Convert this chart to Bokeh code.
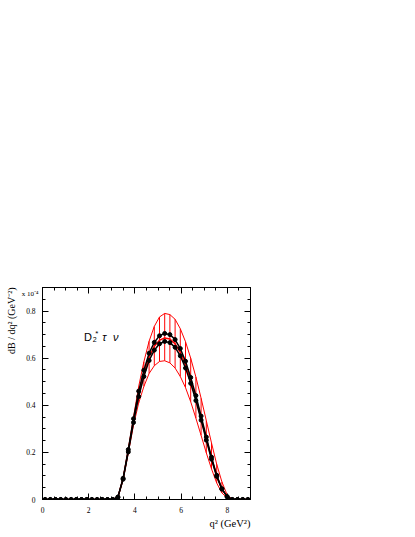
import math
from bokeh.plotting import figure
from bokeh.models import (Range1d, LinearAxis, FixedTicker, CustomJSTickFormatter,
                          Label, ColumnDataSource, Title)
from bokeh.embed import file_html
from bokeh.resources import INLINE

# bin centres (GeV^2)
q2 = [0.1125, 0.3375, 0.5625, 0.7875, 1.0125, 1.2375, 1.4625, 1.6875, 1.9125, 2.1375,
      2.3625, 2.5875, 2.8125, 3.0375, 3.2625, 3.4875, 3.7125, 3.9375, 4.1625, 4.3875,
      4.6125, 4.8375, 5.0625, 5.2875, 5.5125, 5.7375, 5.9625, 6.1875, 6.4125, 6.6375,
      6.8625, 7.0875, 7.3125, 7.5375, 7.7625, 7.9875, 8.2125, 8.4375, 8.6625, 8.8875]

Z14 = [0.0] * 14
Z4 = [0.0] * 4

# dB/dq^2 in units of 1e-4 GeV^-2
black_upper = Z14 + [0.010, 0.090, 0.212, 0.343, 0.460, 0.549, 0.621, 0.667, 0.695, 0.705, 0.700,
                     0.679, 0.641, 0.587, 0.518, 0.441, 0.354, 0.265, 0.180, 0.103, 0.046, 0.012] + Z4
black_lower = Z14 + [0.010, 0.086, 0.202, 0.327, 0.437, 0.522, 0.590, 0.634, 0.661, 0.671, 0.666,
                     0.646, 0.610, 0.558, 0.493, 0.420, 0.337, 0.252, 0.171, 0.098, 0.044, 0.012] + Z4
red_mid = Z14 + [0.010, 0.088, 0.207, 0.335, 0.448, 0.535, 0.605, 0.650, 0.676, 0.686, 0.681,
                 0.661, 0.625, 0.572, 0.505, 0.430, 0.345, 0.258, 0.175, 0.100, 0.045, 0.012] + Z4
red_upper = Z14 + [0.010, 0.090, 0.215, 0.350, 0.480, 0.585, 0.672, 0.735, 0.775, 0.790, 0.785,
                   0.765, 0.725, 0.670, 0.600, 0.520, 0.430, 0.335, 0.240, 0.150, 0.075, 0.020] + Z4
red_lower = Z14 + [0.010, 0.085, 0.198, 0.315, 0.410, 0.480, 0.535, 0.568, 0.586, 0.589, 0.580,
                   0.558, 0.522, 0.475, 0.415, 0.345, 0.272, 0.198, 0.130, 0.070, 0.028, 0.006] + Z4

x_ticks = [0, 2, 4, 6, 8]
x_minor = [0.5 * i for i in range(19)]
y_ticks = [0, 0.2, 0.4, 0.6, 0.8]
y_minor = [round(0.05 * i, 2) for i in range(19)]
scale_text = "x 10\u207b\u2074"      # exponent note for the y axis
scale_pos = [0.874]

src = ColumnDataSource(dict(q2=q2, bu=black_upper, bl=black_lower, rm=red_mid,
                            ru=red_upper, rl=red_lower))

p = figure(frame_width=208, frame_height=212, x_range=Range1d(0, 9), y_range=Range1d(0, 0.9),
           output_backend="svg", toolbar_location=None,
           min_border_left=42, min_border_right=158, min_border_top=287, min_border_bottom=36)
p.background_fill_color = "white"
p.border_fill_color = "white"
p.outline_line_color = "black"
p.outline_line_width = 1
p.grid.visible = False

def style_axis(ax):
    ax.major_tick_in = 6
    ax.major_tick_out = 0
    ax.minor_tick_in = 3
    ax.minor_tick_out = 0
    ax.axis_line_color = "black"
    ax.major_tick_line_color = "black"
    ax.minor_tick_line_color = "black"
    ax.major_label_text_font = "Liberation Serif"
    ax.major_label_text_font_size = "7.5px"
    ax.major_label_text_color = "black"
    ax.major_label_standoff = 7

p.xaxis.ticker = FixedTicker(ticks=x_ticks, minor_ticks=x_minor)
p.yaxis.ticker = FixedTicker(ticks=y_ticks, minor_ticks=y_minor)
p.yaxis.formatter = CustomJSTickFormatter(code="return tick == 0 ? '0' : tick.toFixed(1);")
style_axis(p.xaxis[0])
style_axis(p.yaxis[0])

blank = CustomJSTickFormatter(code="return '';")
top = LinearAxis(ticker=FixedTicker(ticks=x_ticks, minor_ticks=x_minor), formatter=blank)
style_axis(top)
top.major_label_standoff = 0
p.add_layout(top, "above")
right = LinearAxis(ticker=FixedTicker(ticks=y_ticks, minor_ticks=y_minor), formatter=blank)
style_axis(right)
right.major_label_standoff = 0
p.add_layout(right, "right")

# invisible extra left axis carrying only the "x 10^-4" note
note_axis = LinearAxis(ticker=FixedTicker(ticks=scale_pos, minor_ticks=[]),
                       major_label_overrides={scale_pos[0]: scale_text})
note_axis.axis_line_color = None
note_axis.major_tick_line_color = None
note_axis.minor_tick_line_color = None
note_axis.major_tick_in = 0
note_axis.major_tick_out = 0
note_axis.major_label_text_font = "Liberation Serif"
note_axis.major_label_text_font_size = "7px"
note_axis.major_label_text_color = "black"
note_axis.major_label_standoff = -15
p.add_layout(note_axis, "left")

# hatching between red bands
p.segment(x0="q2", y0="rl", x1="q2", y1="ru", source=src, line_color="red", line_width=1)
p.line("q2", "ru", source=src, line_color="red", line_width=1)
p.line("q2", "rl", source=src, line_color="red", line_width=1)
p.line("q2", "rm", source=src, line_color="red", line_width=1.5)

p.line("q2", "bu", source=src, line_color="black", line_width=1.5)
p.line("q2", "bl", source=src, line_color="black", line_width=1.5)
p.scatter("q2", "bu", source=src, size=4, color="black")
p.scatter("q2", "bl", source=src, size=4, color="black")

serif = "Liberation Serif"
sans = "Liberation Sans"

ytitle = Title(text="dB / dq\u00b2 (GeV\u207b\u00b2)", align="right", text_font=serif,
               text_font_size="10px", text_font_style="normal", text_color="black", standoff=3)
p.add_layout(ytitle, "left")
xtitle = Title(text="q\u00b2 (GeV\u00b2)", align="right", text_font=serif,
               text_font_size="10.5px", text_font_style="normal", text_color="black", standoff=0)
p.add_layout(xtitle, "below")

p.add_layout(Label(x=1.80, y=0.689, text="D", text_align="left", text_baseline="alphabetic",
                   text_font=sans, text_font_size="11px", text_color="black"))
p.add_layout(Label(x=2.17, y=0.678, text="2", text_align="left", text_baseline="alphabetic",
                   text_font=sans, text_font_size="7px", text_color="black"))
p.add_layout(Label(x=2.28, y=0.705, text="*", text_align="left", text_baseline="alphabetic",
                   text_font=sans, text_font_size="8px", text_color="black"))
p.add_layout(Label(x=2.58, y=0.689, text="\u03c4", text_align="left", text_baseline="alphabetic",
                   text_font=sans, text_font_size="11px", text_font_style="italic", text_color="black"))
p.add_layout(Label(x=3.05, y=0.689, text="\u03bd", text_align="left", text_baseline="alphabetic",
                   text_font=sans, text_font_size="11px", text_font_style="italic", text_color="black"))

open("out.html", "w").write(file_html(p, INLINE))
